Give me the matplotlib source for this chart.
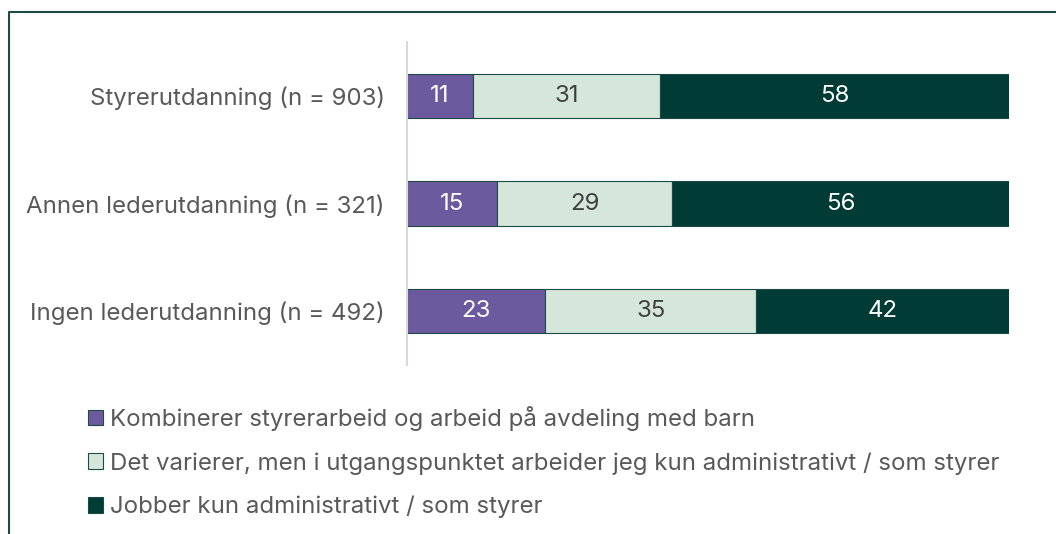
import matplotlib.pyplot as plt
from matplotlib.patches import Patch
from matplotlib.lines import Line2D

plt.rcParams['font.family'] = ['Inter', 'DejaVu Sans']

categories = ["Styrerutdanning (n = 903)", "Annen lederutdanning (n = 321)", "Ingen lederutdanning (n = 492)"]
series_names = [
    "Kombinerer styrerarbeid og arbeid på avdeling med barn",
    "Det varierer, men i utgangspunktet arbeider jeg kun administrativt / som styrer",
    "Jobber kun administrativt / som styrer",
]
kombinerer = [11, 15, 23]
varierer = [31, 29, 35]
kun_admin = [58, 56, 42]

colors = ["#6c5a9e", "#d5e7da", "#003b35"]
label_colors = ["white", "#404040", "white"]
edge = "#1d4a44"
text_gray = "#595959"
fs = 17.3

W, H = 1056, 534
fig = plt.figure(figsize=(W / 100, H / 100), dpi=100)
ax = fig.add_axes([407 / W, 1 - 365 / H, (1009 - 407) / W, (365 - 42) / H])

ypos = list(range(len(categories)))
left = [0] * len(categories)
for vals, col, lc in zip([kombinerer, varierer, kun_admin], colors, label_colors):
    bars = ax.barh(ypos, vals, left=left, height=0.41, color=col, edgecolor=edge, linewidth=0.8)
    for b, v in zip(bars, vals):
        ax.text(b.get_x() + b.get_width() / 2, b.get_y() + b.get_height() / 2, str(v),
                ha="center", va="center", color=lc, fontsize=fs)
    left = [l + v for l, v in zip(left, vals)]

ax.set_xlim(0, 100)
ax.set_ylim(2.5, -0.5)
ax.set_yticks(ypos)
ax.set_yticklabels(categories, fontsize=fs, color=text_gray)
ax.tick_params(axis="y", length=0, pad=16)
ax.set_xticks([])
for s in ["top", "right", "bottom"]:
    ax.spines[s].set_visible(False)
ax.spines["left"].set_color("#d9d9d9")
ax.spines["left"].set_linewidth(1.5)

handles = [Patch(facecolor=c, edgecolor=edge, linewidth=0.8) for c in colors]
fig.legend(handles, series_names, loc="upper left", bbox_to_anchor=(88 / W, 1 - 406 / H),
           frameon=False, fontsize=fs, labelcolor=text_gray, handlelength=0.62, handleheight=0.62,
           handletextpad=0.3, labelspacing=0.88, borderaxespad=0, borderpad=0)

# outer frame (top and left edges)
fig.add_artist(Line2D([9 / W, 9 / W, 1], [0, 1 - 12 / H, 1 - 12 / H], color="#1d4a44", linewidth=1.5))

fig.savefig("out.png", dpi=100)
